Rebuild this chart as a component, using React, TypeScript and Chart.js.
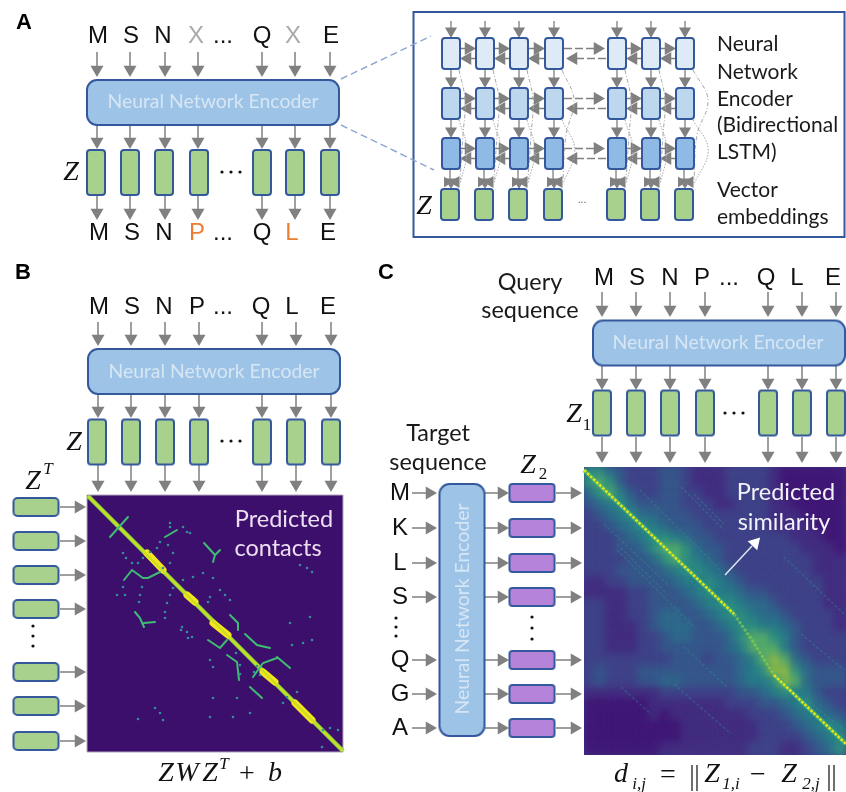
import React, { useEffect, useRef } from "react";
import { Chart, registerables } from "chart.js";

Chart.register(...registerables);

type P = [number, number];

// ---- sequence labels ----
const TOP_A = ["M", "S", "N", "X", "...", "Q", "X", "E"];
const BOTTOM_A = ["M", "S", "N", "P", "...", "Q", "L", "E"];
const QUERY = ["M", "S", "N", "P", "...", "Q", "L", "E"];
const TARGET = ["M", "K", "L", "S", "Q", "G", "A"];

// ---- column / row centres ----
const A_LET_TOP = [98, 131, 163, 196, 223, 262, 293, 331];
const A_LET_BOT = [99, 132, 164, 197, 223, 262, 292, 328];
const B_LET = [99, 132, 164, 197, 223, 261, 292, 328];
const C_LET = [604, 637, 670, 702, 729, 766, 797, 833];
const A_COLS = [97, 130, 165, 198, 262, 295, 330];
const B_COLS = [98, 131, 165, 199, 262, 296, 331];
const C_COLS = [602, 636, 670, 705, 768, 802, 836];
const INSET_COLS = [451, 485, 519, 554, 617, 651, 685];
const INSET_ROWS = [53.5, 103.5, 153.5];
const B_ROWS = [507, 541, 575, 609, 672, 706, 741];
const C_ROWS = [493, 528, 563, 597, 660, 694, 728];

// ---- panel C similarity matrix, levels 0-9 ----
const SIMILARITY = [
  "664322233211122221000000",
  "676322233211122221000000",
  "467532233221122221000000",
  "345643333222112221100000",
  "234564433322222221110000",
  "223456543332222221111000",
  "222345665433222222211100",
  "222334677643322222221110",
  "222233467654322222222111",
  "222333345665432222222111",
  "112233334556543222222211",
  "111122333456554332222211",
  "221122333345665443222211",
  "221122344334566544322221",
  "221112344433456655432221",
  "221112234433346776532222",
  "221112233333345777532222",
  "222222223332334578743222",
  "232223333333334568864333",
  "232223344333334556874333",
  "111111122222223345655322",
  "000000111111122233456432",
  "000000101111111222345543",
  "000000000111111122234565",
  "000000000111111122223456",
  "000000011111111222112346",
];
const LEVEL_COLORS = ["#420f73", "#452a80", "#40458a", "#355f8d", "#2b778e", "#228d8a", "#2aa580", "#5cc863", "#a0da39", "#fde725"];

// ---- panel C overlays ----
const C_DIAGONAL: P[] = [[584, 470], [734, 614]];
const C_DIAGONAL_END: P[] = [[774, 675], [846, 744]];
const C_DIAGONAL_MID: P[] = [[734, 614], [752, 640], [774, 675]];
const C_STRIPES: P[][] = [
  [[617, 550], [694, 627]],
  [[617, 544], [667, 594]],
  [[604, 524], [667, 584]],
  [[684, 647], [727, 687]],
  [[674, 684], [731, 734]],
  [[621, 687], [651, 714]],
  [[681, 487], [724, 530]],
  [[694, 494], [724, 524]],
  [[781, 680], [844, 730]],
  [[784, 557], [844, 614]],
  [[801, 634], [844, 670]],
  [[620, 510], [700, 590]],
  [[640, 490], [720, 570]],
];

// ---- panel B contacts ----
const B_FAT: P[][] = [
  [[147, 553], [163, 570]],
  [[187, 595], [195, 602]],
  [[213, 623], [228, 635]],
  [[263, 672], [275, 682]],
  [[295, 703], [312, 720]],
];
const B_STROKES: P[][] = [
  [[110, 537], [128, 517]],
  [[165, 537], [177, 530]],
  [[204, 543], [215, 555], [220, 550]],
  [[215, 555], [213, 562]],
  [[124, 580], [132, 570], [143, 578], [148, 578], [160, 572]],
  [[135, 612], [140, 618], [144, 627]],
  [[144, 623], [155, 622]],
  [[230, 615], [238, 623], [238, 630]],
  [[208, 640], [220, 648], [227, 640]],
  [[245, 634], [257, 645], [270, 648]],
  [[277, 657], [290, 668]],
  [[227, 655], [237, 662], [239, 680]],
  [[250, 687], [262, 698]],
  [[253, 677], [263, 663], [277, 658]],
];
const B_DOTS: P[] = [
  [123, 553], [126, 558], [132, 563], [138, 563], [143, 558], [150, 552], [157, 548],
  [168, 545], [173, 553], [170, 563], [163, 568], [170, 527], [183, 527], [187, 532], [190, 533],
  [123, 587], [125, 595], [117, 595], [142, 587], [140, 595], [139, 602],
  [173, 588], [170, 595], [167, 603], [165, 612], [165, 618], [183, 580], [193, 577], [203, 573], [213, 578],
  [220, 590], [225, 595], [230, 600], [210, 597], [208, 602], [300, 565], [307, 568], [312, 572],
  [182, 627], [187, 632], [192, 637], [181, 630], [188, 638], [290, 623], [310, 617],
  [292, 645], [303, 643], [312, 640], [213, 698], [210, 717], [237, 698], [233, 717], [250, 713],
  [155, 708], [160, 713], [163, 720], [138, 719], [283, 703], [287, 697], [297, 692],
  [323, 730], [330, 728], [338, 730], [322, 747], [210, 660], [213, 667], [260, 675], [170, 523],
  [240, 665], [240, 674], [160, 542], [236, 653], [254, 672], [257, 666],
];

// ---- links from the encoder to the inset ----
const DASH_LINKS: P[][] = [
  [[341, 79], [431, 36]],
  [[341, 125], [434, 170]],
];

const ARROW = "#808080";
const BLUE_EDGE = "#34589c";
const ENCODER_FILL = "#9dc3e6";
const GREEN = "#a9d18e";
const PURPLE = "#b584da";
const SERIF = '"Liberation Serif", serif';
const SANS = '"Liberation Sans", sans-serif';
const LATO = 'Lato, sans-serif';

function boxCanvas(w: number, h: number, fill: string, stroke: string, r: number, lw = 2) {
  const c = document.createElement("canvas");
  const pad = lw + 1;
  c.width = w + pad * 2;
  c.height = h + pad * 2;
  const g = c.getContext("2d")!;
  g.beginPath();
  g.roundRect(pad, pad, w, h, r);
  g.fillStyle = fill;
  g.fill();
  if (lw > 0) {
    g.lineWidth = lw;
    g.strokeStyle = stroke;
    g.stroke();
  }
  return c;
}

const boxes = (pts: P[], w: number, h: number, fill: string, stroke = BLUE_EDGE, r = 3, lw = 2, extra: any = {}) => ({
  type: "scatter",
  data: pts.map(([x, y]) => ({ x, y })),
  pointStyle: boxCanvas(w, h, fill, stroke, r, lw),
  pointRadius: 1,
  showLine: false,
  ...extra,
});

const line = (pts: P[], color: string, width: number, extra: any = {}) => ({
  type: "line",
  data: pts.map(([x, y]) => ({ x, y })),
  borderColor: color,
  borderWidth: width,
  pointRadius: 0,
  fill: false,
  spanGaps: false,
  ...extra,
});

const gapped = (segs: P[][], color: string, width: number, extra: any = {}) => {
  const data: any[] = [];
  segs.forEach((s) => {
    s.forEach(([x, y]) => data.push({ x, y }));
    data.push({ x: NaN, y: NaN });
  });
  return { ...line([], color, width, extra), data };
};

const heads = (pts: P[], rot: number, r = 7.5, color = ARROW) => ({
  type: "scatter",
  data: pts.map(([x, y]) => ({ x, y })),
  pointStyle: "triangle",
  pointRotation: rot,
  pointRadius: r,
  pointBorderWidth: 0,
  pointBackgroundColor: color,
  showLine: false,
});

const dots = (pts: P[], r: number, color: string) => ({
  type: "scatter",
  data: pts.map(([x, y]) => ({ x, y })),
  pointStyle: "circle",
  pointRadius: r,
  pointBorderWidth: 0,
  pointBackgroundColor: color,
  showLine: false,
});

function downArrows(cols: number[], y0: number, tip: number, stems: P[][], hd: P[]) {
  cols.forEach((x) => {
    stems.push([[x, y0], [x, tip - 7]]);
    hd.push([x, tip - 7.5]);
  });
}

function buildDatasets() {
  const ds: any[] = []; // bottom to top
  const stems: P[][] = [];
  const down: P[] = [];
  const right: P[] = [];

  // ---- panel B heat map ----
  ds.push(boxes([[215, 623.5]], 256, 257, "#3d0f6c", "#b3a6bd", 0, 1));
  ds.push(line([[88, 496], [343, 751]], "#8fd744", 4.5));
  ds.push(gapped(B_FAT, "#f4e61e", 7, { borderCapStyle: "round" }));
  ds.push(line([[88, 496], [343, 751]], "#c8e020", 2.2));
  ds.push(gapped(B_STROKES, "#3fbc73", 2, { borderCapStyle: "round" }));
  ds.push(dots(B_DOTS, 1.3, "#2f8f9a"));

  // ---- panel C heat map ----
  ds.push(boxes([[715, 611]], 262, 288, "#3f3f88", "#3f3f88", 0, 0));
  const cw = 262 / 24;
  const ch = 288 / 26;
  const cells: any[] = [];
  const cols: string[] = [];
  SIMILARITY.forEach((row, j) => {
    row.split("").forEach((lv, i) => {
      cells.push({ x: 584 + (i + 0.5) * cw, y: 467 + (j + 0.5) * ch });
      cols.push(LEVEL_COLORS[+lv]);
    });
  });
  ds.push({
    type: "scatter",
    data: cells,
    pointStyle: "rect",
    pointRadius: 8.6,
    pointBorderWidth: 0,
    pointBackgroundColor: cols,
    showLine: false,
    blurPx: 5,
    clipBox: [584, 467, 846, 755],
  });
  ds.push(gapped(C_STRIPES, "rgba(45,160,140,0.3)", 1.6, { borderDash: [3, 2] }));
  ds.push(line(C_DIAGONAL, "rgba(60,190,115,0.5)", 5));
  ds.push(line(C_DIAGONAL_END, "rgba(60,190,115,0.5)", 5));
  ds.push(line(C_DIAGONAL, "#dfe31c", 2.6, { borderDash: [3, 1.2] }));
  ds.push(line(C_DIAGONAL_END, "#dfe31c", 2.6, { borderDash: [3, 1.2] }));
  ds.push(line(C_DIAGONAL_MID, "rgba(150,218,70,0.55)", 3, { borderDash: [3, 1.5] }));
  ds.push(line([[725, 575], [752, 546]], "#e4ecf4", 1.4));
  ds.push(heads([[755, 543]], 43, 7.5, "#ffffff"));

  // ---- inset frame ----
  ds.push(boxes([[629, 124.5]], 431, 225, "#ffffff", "#34589c", 0, 2));
  ds.push(gapped(DASH_LINKS, "#8ea6cf", 1.4, { borderDash: [7, 4] }));

  // ---- modules A, B, C ----
  downArrows(A_COLS, 52, 77, stems, down);
  downArrows(A_COLS, 125, 149, stems, down);
  downArrows(A_COLS, 196, 220, stems, down);
  downArrows(B_COLS, 322, 346, stems, down);
  downArrows(B_COLS, 394, 418, stems, down);
  downArrows(B_COLS, 465, 492, stems, down);
  downArrows(C_COLS, 292, 317, stems, down);
  downArrows(C_COLS, 366, 390, stems, down);
  downArrows(C_COLS, 437, 463, stems, down);

  // ---- panel B rows ----
  B_ROWS.forEach((y) => {
    stems.push([[60, y], [79, y]]);
    right.push([78.5, y]);
  });
  // ---- panel C rows ----
  C_ROWS.forEach((y) => {
    stems.push([[412, y], [430, y]], [[485, y], [502, y]], [[556, y], [575, y]]);
    right.push([429.5, y], [501.5, y], [574.5, y]);
  });

  ds.push(gapped(stems, ARROW, 1.5));
  ds.push(heads(down, 180));
  ds.push(heads(right, 90));

  // ---- inset network ----
  const iStem: P[][] = [];
  const iDash: P[][] = [];
  const iDown: P[] = [];
  const iRight: P[] = [];
  const iLeft: P[] = [];
  const arcs: any[] = [];
  INSET_COLS.forEach((x) => {
    iStem.push([[x, 21], [x, 30]], [[x, 69], [x, 80]], [[x, 119], [x, 130]], [[x - 1, 169], [x - 1, 180]]);
    iDown.push([x, 31], [x, 81], [x, 131], [x, 182]);
  });
  INSET_ROWS.forEach((cy) => {
    INSET_COLS.forEach((x, i) => {
      if (i === 6) return;
      const nx = INSET_COLS[i + 1];
      if (i === 3) {
        iDash.push([[x + 10, cy - 5], [nx - 20, cy - 5]], [[x + 22, cy + 5], [nx - 10, cy + 5]]);
        iRight.push([nx - 19.5, cy - 5]);
        iLeft.push([x + 19.5, cy + 5]);
      } else {
        iStem.push([[x + 10, cy - 5], [nx - 12, cy - 5]], [[x + 12, cy + 5], [nx - 10, cy + 5]]);
        iRight.push([nx - 16.5, cy - 5]);
        iLeft.push([x + 16.5, cy + 5]);
      }
    });
  });
  ds.push(gapped(iStem, ARROW, 1.3));
  ds.push(gapped(iDash, ARROW, 1.5, { borderDash: [8, 3] }));
  ds.push(heads(iDown, 180, 7));
  ds.push(heads(INSET_COLS.map((x) => [x + 5, 182] as P), 150, 7));
  ds.push(heads(INSET_COLS.map((x) => [x - 4, 182] as P), 210, 6));
  ds.push(heads(iRight, 90, 7.5));
  ds.push(heads(iLeft, 270, 7.5));
  INSET_COLS.forEach((x, i) => {
    const big = i === 6 ? 19 : i === 3 ? 16 : 10;
    arcs.push(line([[x + 8, 70], [x + 4 + big, 100], [x + 12, 135], [x + 9, 180]], "#a8a8a8", 1, { tension: 0.4, borderDash: [4, 2, 1, 2] }));
    arcs.push(line([[x + 8, 120], [x + 8 + big * 0.8, 150], [x + 9, 184]], "#a8a8a8", 1, { tension: 0.4, borderDash: [1.5, 1.5] }));
  });
  arcs.forEach((a) => ds.push(a));

  // ---- boxes ----
  ds.push(boxes([[213, 102.5], [214, 371.5], [719, 343]], 252, 45, ENCODER_FILL, BLUE_EDGE, 10));
  ds.push(boxes([[462, 610]], 45, 252, ENCODER_FILL, BLUE_EDGE, 10));
  const zBoxes: P[] = [
    ...[96, 130, 164, 199, 262, 295, 330].map((x) => [x, 172.5] as P),
    ...[97, 131, 165, 199, 262, 296, 331].map((x) => [x, 442] as P),
    ...[602, 636, 670, 705, 768, 802, 836].map((x) => [x, 413] as P),
  ];
  ds.push(boxes(zBoxes, 18, 45, GREEN, BLUE_EDGE, 3));
  ds.push(boxes(B_ROWS.map((y) => [36, y] as P), 45, 18, GREEN, BLUE_EDGE, 4));
  ds.push(boxes(C_ROWS.map((y) => [532, y] as P), 45, 18, PURPLE, BLUE_EDGE, 3));
  ds.push(boxes(INSET_COLS.map((x) => [x, 53.5] as P), 18, 31, "#deebf7", BLUE_EDGE, 3));
  ds.push(boxes(INSET_COLS.map((x) => [x, 103.5] as P), 18, 31, "#bdd7ee", BLUE_EDGE, 3));
  ds.push(boxes(INSET_COLS.map((x) => [x, 153.5] as P), 18, 31, "#8fbae6", BLUE_EDGE, 3));
  ds.push(boxes(INSET_COLS.map((x) => [x - 1, 204.5] as P), 18, 31, GREEN, BLUE_EDGE, 3));

  // ---- ellipsis dots and norm bars ----
  ds.push(dots([[222, 172], [231, 172], [240, 172], [222, 441], [231, 441], [240, 441], [725, 413], [734, 413], [743, 413], [33, 626], [33, 636], [33, 646], [396, 618], [396, 627], [396, 636], [532, 617], [532, 628], [532, 639]], 1.6, "#111111"));
  ds.push(gapped([[[692, 765], [692, 791]], [[697, 765], [697, 791]], [[829, 765], [829, 791]], [[834, 765], [834, 791]]], "#222222", 1.3));

  // Chart.js paints the first dataset last: reverse so the list reads bottom to top.
  return ds.reverse();
}

type Label = { t: string; x: number; y: number; f: string; c?: string; a?: CanvasTextAlign; rot?: number };

function buildLabels(): Label[] {
  const L: Label[] = [];
  const big = `24px ${SANS}`;
  const put = (arr: string[], xs: number[], y: number, colorOf: (s: string, i: number) => string) =>
    arr.forEach((t, i) => L.push({ t, x: xs[i], y, f: big, c: colorOf(t, i) }));
  put(TOP_A, A_LET_TOP, 36, (t) => (t === "X" ? "#a9a9a9" : "#111"));
  put(BOTTOM_A, A_LET_BOT, 233, (t) => (t === "P" || t === "L" ? "#ed7d31" : "#111"));
  put(QUERY, B_LET, 307, () => "#111");
  put(QUERY, C_LET, 278, () => "#111");
  TARGET.forEach((t, i) => L.push({ t, x: 400, y: C_ROWS[i], f: big, c: "#111" }));

  const bold = `bold 22px ${SANS}`;
  L.push({ t: "A", x: 24, y: 23, f: bold, c: "#000" }, { t: "B", x: 23, y: 273, f: bold, c: "#000" }, { t: "C", x: 386, y: 273, f: bold, c: "#000" });

  const enc = `19.4px ${LATO}`;
  const encC = "#d6e6f5";
  L.push({ t: "Neural Network Encoder", x: 213, y: 102, f: enc, c: encC });
  L.push({ t: "Neural Network Encoder", x: 214, y: 372, f: enc, c: encC });
  L.push({ t: "Neural Network Encoder", x: 718, y: 343, f: enc, c: encC });
  L.push({ t: "Neural Network Encoder", x: 463, y: 609, f: enc, c: encC, rot: -90 });

  const side = `21px ${LATO}`;
  [["Neural", 44], ["Network", 72], ["Encoder", 99], ["(Bidirectional", 125], ["LSTM)", 152], ["Vector", 190], ["embeddings", 217]].forEach(([t, y]) =>
    L.push({ t: t as string, x: 717, y: y as number, f: side, c: "#1a1a1a", a: "left" })
  );
  const seq = `23.4px ${LATO}`;
  L.push({ t: "Query", x: 530, y: 282, f: seq, c: "#1a1a1a" }, { t: "sequence", x: 530, y: 310, f: seq, c: "#1a1a1a" });
  L.push({ t: "Target", x: 438, y: 433, f: seq, c: "#1a1a1a" }, { t: "sequence", x: 438, y: 462, f: seq, c: "#1a1a1a" });

  const hm = `23.5px ${LATO}`;
  L.push({ t: "Predicted", x: 284, y: 519, f: hm, c: "#ecdff2" }, { t: "contacts", x: 278, y: 548, f: hm, c: "#ecdff2" });
  L.push({ t: "Predicted", x: 786, y: 492, f: hm, c: "#f2f2f8" }, { t: "similarity", x: 784, y: 522, f: hm, c: "#f2f2f8" });

  const mi = `italic 28px ${SERIF}`;
  const ms = `italic 17px ${SERIF}`;
  const m = `28px ${SERIF}`;
  const dk = "#111";
  L.push({ t: "Z", x: 71, y: 173, f: mi, c: dk }, { t: "Z", x: 74, y: 443, f: mi, c: dk }, { t: "Z", x: 424, y: 207, f: mi, c: dk });
  L.push({ t: "Z", x: 574, y: 415, f: mi, c: dk }, { t: "1", x: 587, y: 426, f: `17px ${SERIF}`, c: dk });
  L.push({ t: "Z", x: 33, y: 482, f: mi, c: dk }, { t: "T", x: 48, y: 470, f: ms, c: dk });
  L.push({ t: "Z", x: 528, y: 466, f: mi, c: dk }, { t: "2", x: 543, y: 475, f: `17px ${SERIF}`, c: dk });
  L.push({ t: "Z", x: 166, y: 774, f: mi, c: dk }, { t: "W", x: 187, y: 774, f: mi, c: dk }, { t: "Z", x: 210, y: 774, f: mi, c: dk }, { t: "T", x: 224, y: 765, f: ms, c: dk });
  L.push({ t: "+", x: 247, y: 775, f: m, c: dk }, { t: "b", x: 275, y: 774, f: mi, c: dk });
  L.push({ t: "d", x: 621, y: 775, f: mi, c: dk }, { t: "i,j", x: 639, y: 785, f: ms, c: dk }, { t: "=", x: 668, y: 776, f: m, c: dk });
  L.push({ t: "Z", x: 712, y: 775, f: mi, c: dk }, { t: "1,i", x: 731, y: 785, f: ms, c: dk }, { t: "\u2212", x: 758, y: 776, f: m, c: dk });
  L.push({ t: "Z", x: 789, y: 775, f: mi, c: dk }, { t: "2,j", x: 811, y: 785, f: ms, c: dk });
  L.push({ t: "...", x: 582, y: 200, f: `10px ${SANS}`, c: "#555" });
  return L;
}

const diagramPlugin = {
  id: "diagram",
  beforeDatasetDraw(chart: any, args: any) {
    const d = chart.data.datasets[args.index];
    if (!d.blurPx) return;
    const { ctx, scales } = chart;
    const [x0, y0, x1, y1] = d.clipBox;
    ctx.save();
    ctx.beginPath();
    const px = scales.x.getPixelForValue(x0);
    const py = scales.y.getPixelForValue(y0);
    ctx.rect(px, py, scales.x.getPixelForValue(x1) - px, scales.y.getPixelForValue(y1) - py);
    ctx.clip();
    ctx.filter = `blur(${d.blurPx}px)`;
  },
  afterDatasetDraw(chart: any, args: any) {
    if (chart.data.datasets[args.index].blurPx) chart.ctx.restore();
  },
  afterDatasetsDraw(chart: any) {
    const { ctx, scales } = chart;
    buildLabels().forEach((l) => {
      ctx.save();
      ctx.translate(scales.x.getPixelForValue(l.x), scales.y.getPixelForValue(l.y));
      if (l.rot) ctx.rotate((l.rot * Math.PI) / 180);
      ctx.font = l.f;
      ctx.fillStyle = l.c || "#000";
      ctx.textAlign = l.a || "center";
      ctx.textBaseline = "middle";
      ctx.fillText(l.t, 0, 0);
      ctx.restore();
    });
  },
};

export default function App() {
  const ref = useRef<HTMLCanvasElement>(null);
  useEffect(() => {
    const chart = new Chart(ref.current!, {
      type: "scatter",
      data: { datasets: buildDatasets() },
      options: {
        animation: false,
        responsive: false,
        devicePixelRatio: 1,
        layout: { padding: 0, autoPadding: false },
        plugins: { legend: { display: false }, tooltip: { enabled: false }, title: { display: false } },
        scales: {
          x: { type: "linear", min: 0, max: 846, display: false },
          y: { type: "linear", min: 0, max: 792, reverse: true, display: false },
        },
      },
      plugins: [diagramPlugin],
    } as any);
    return () => chart.destroy();
  }, []);
  return (
    <canvas
      ref={ref}
      width={846}
      height={792}
      style={{ position: "fixed", left: 0, top: 0, display: "block", background: "#fff", filter: "blur(0.45px)" }}
    />
  );
}
